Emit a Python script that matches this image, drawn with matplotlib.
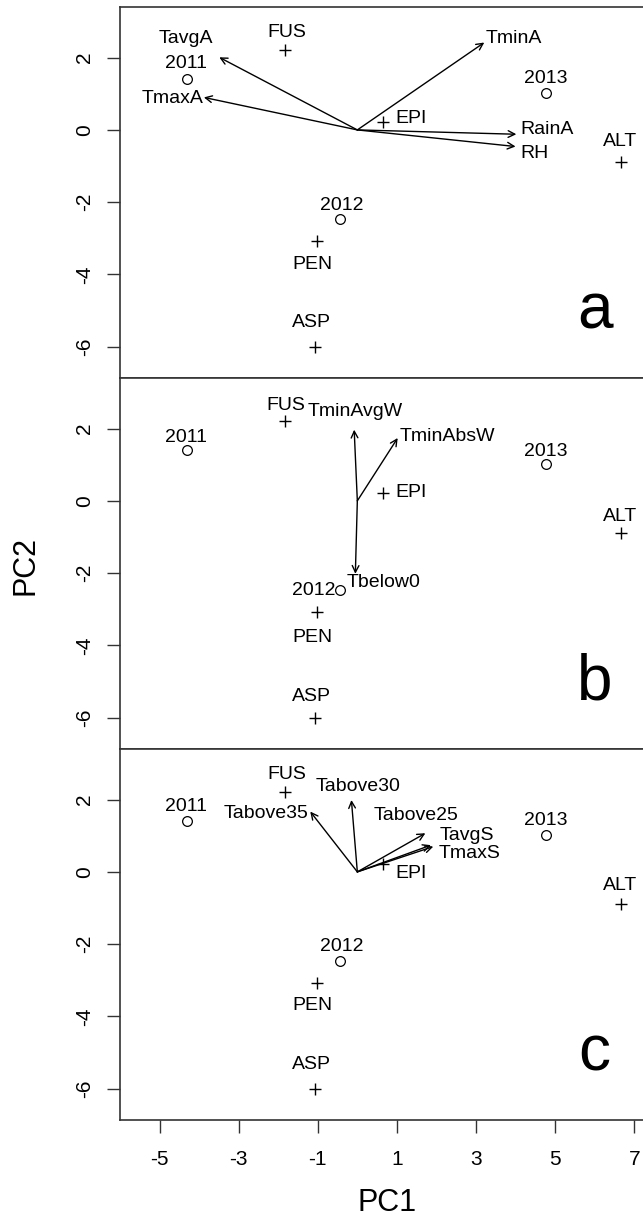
import matplotlib.pyplot as plt

plt.rcParams['font.family'] = ['Liberation Sans', 'DejaVu Sans']

# scores of sites and years (same in all three panels)
site_names = ['FUS', 'EPI', 'ALT', 'PEN', 'ASP']
site_pc1 = [-1.84, 0.64, 6.66, -1.01, -1.08]
site_pc2 = [2.20, 0.23, -0.90, -3.07, -6.00]

year_names = ['2011', '2012', '2013']
year_pc1 = [-4.30, -0.45, 4.77]
year_pc2 = [1.40, -2.47, 1.02]

# loadings (arrows) per panel
vars_a = ['TavgA', 'TmaxA', 'TminA', 'RainA', 'RH']
vec_a_pc1 = [-3.49, -3.88, 3.21, 4.02, 4.00]
vec_a_pc2 = [2.01, 0.90, 2.42, -0.12, -0.46]

vars_b = ['TminAvgW', 'TminAbsW', 'Tbelow0']
vec_b_pc1 = [-0.08, 1.02, -0.05]
vec_b_pc2 = [1.97, 1.74, -2.02]

vars_c = ['Tabove35', 'Tabove30', 'Tabove25', 'TavgS', 'TmaxS']
vec_c_pc1 = [-1.19, -0.15, 1.72, 1.86, 1.92]
vec_c_pc2 = [1.67, 1.99, 1.07, 0.74, 0.70]

xticks = [-5, -3, -1, 1, 3, 5, 7]
yticks = [2, 0, -2, -4, -6]

# label offsets in pixels (dx, dy, ha)
site_off = {
    'a': {'FUS': (2, 18, 'center'), 'EPI': (13, 3, 'left'), 'ALT': (-1, 21, 'center'),
          'PEN': (-5, -24, 'center'), 'ASP': (-3, 24, 'center')},
    'b': {'FUS': (1, 16, 'center'), 'EPI': (13, 0, 'left'), 'ALT': (-1, 17, 'center'),
          'PEN': (-5, -26, 'center'), 'ASP': (-3, 21, 'center')},
    'c': {'FUS': (2, 18, 'center'), 'EPI': (13, -10, 'left'), 'ALT': (-1, 19, 'center'),
          'PEN': (-5, -23, 'center'), 'ASP': (-3, 24, 'center')},
}
year_off = {
    'a': {'2011': (-1, 16, 'center'), '2012': (2, 14, 'center'), '2013': (0, 15, 'center')},
    'b': {'2011': (-1, 13, 'center'), '2012': (-4, 0, 'right'), '2013': (0, 12, 'center')},
    'c': {'2011': (-1, 15, 'center'), '2012': (2, 15, 'center'), '2013': (0, 15, 'center')},
}
vec_off = {
    'a': [(-33, 19, 'center'), (0, -1, 'right'), (1, 4, 'left'), (4, 5, 'left'), (5, -7, 'left')],
    'b': [(1, 18, 'center'), (2, 1, 'left'), (-9, -9, 'left')],
    'c': [(-2, -2, 'right'), (7, 14, 'center'), (-9, 18, 'center'), (9, 10, 'left'), (5, -7, 'left')],
}

panels = [
    ('a', vars_a, vec_a_pc1, vec_a_pc2, 0.6919),
    ('b', vars_b, vec_b_pc1, vec_b_pc2, 0.3896),
    ('c', vars_c, vec_c_pc1, vec_c_pc2, 0.0872),
]

fig = plt.figure(figsize=(6.43, 12.27), dpi=100)
spine_col = '#333333'
fs = 14

for key, names, vx, vy, bottom in panels:
    ax = fig.add_axes([120 / 643, bottom, 534 / 643, 0.3023])
    ax.set_xlim(-6.0, 7.5)
    ax.set_ylim(-6.87, 3.40)

    ax.plot(site_pc1, site_pc2, ls='none', marker='+', ms=9, mew=1.0, color='black')
    ax.plot(year_pc1, year_pc2, ls='none', marker='o', ms=7, mew=0.9,
            mfc='none', mec='black')

    for n, x, y in zip(site_names, site_pc1, site_pc2):
        dx, dy, ha = site_off[key][n]
        ax.annotate(n, (x, y), xytext=(dx, dy), textcoords='offset pixels',
                    ha=ha, va='center', fontsize=fs)
    for n, x, y in zip(year_names, year_pc1, year_pc2):
        dx, dy, ha = year_off[key][n]
        ax.annotate(n, (x, y), xytext=(dx, dy), textcoords='offset pixels',
                    ha=ha, va='center', fontsize=fs)

    for i, (n, x, y) in enumerate(zip(names, vx, vy)):
        ax.annotate('', xy=(x, y), xytext=(0, 0),
                    arrowprops=dict(arrowstyle='->', lw=1.0, color='black',
                                    shrinkA=0, shrinkB=0, mutation_scale=12))
        dx, dy, ha = vec_off[key][i]
        ax.annotate(n, (x, y), xytext=(dx, dy), textcoords='offset pixels',
                    ha=ha, va='center', fontsize=fs)

    ax.text(6.0, -5.5, key, fontsize=46, ha='center', va='baseline')

    for s in ax.spines.values():
        s.set_color(spine_col)
        s.set_linewidth(1.2)
    ax.set_yticks(yticks)
    ax.set_yticklabels([str(t) for t in yticks], rotation=90, va='center')
    ax.tick_params(axis='y', direction='out', length=9.5, width=1.0, color=spine_col,
                   pad=9, labelsize=15)
    if key == 'c':
        ax.set_xticks(xticks)
        ax.set_xticklabels([str(t) for t in xticks])
        ax.tick_params(axis='x', direction='out', length=9.5, width=1.0, color=spine_col,
                       pad=12, labelsize=15)
    else:
        ax.set_xticks([])

fig.text(25 / 643, 1 - 565 / 1227, 'PC2', rotation=90, ha='center', va='center', fontsize=22)
fig.text(387 / 643, 1 - 1203 / 1227, 'PC1', ha='center', va='center', fontsize=22)

fig.savefig('out.png', dpi=100)
